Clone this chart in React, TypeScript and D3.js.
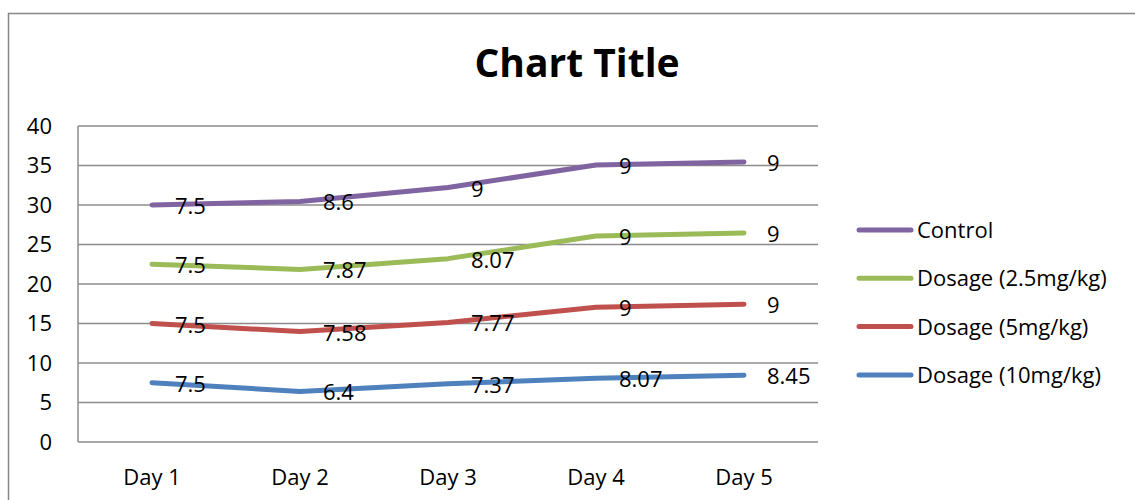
import * as d3 from 'd3'
import { useEffect, useRef } from 'react'

const days = ['Day 1', 'Day 2', 'Day 3', 'Day 4', 'Day 5']
const seriesNames = ['Dosage (10mg/kg)', 'Dosage (5mg/kg)', 'Dosage (2.5mg/kg)', 'Control']
const dose10 = [7.5, 6.4, 7.37, 8.07, 8.45]
const dose5 = [7.5, 7.58, 7.77, 9, 9]
const dose25 = [7.5, 7.87, 8.07, 9, 9]
const control = [7.5, 8.6, 9, 9, 9]
const yTicks = [0, 5, 10, 15, 20, 25, 30, 35, 40]
const colors = ['#4F81BD', '#C0504D', '#9BBB59', '#8064A2']

const FONT = '"Open Sans", sans-serif'
const TEXT_SIZE = 22

export default function App() {
  const ref = useRef<HTMLDivElement | null>(null)

  useEffect(() => {
    const width = 1135
    const height = 500
    const plotLeft = 78
    const plotRight = 818
    const plotTop = 126
    const plotBottom = 442

    // rows for the stack, one per day
    const rows = days.map((day, i) => ({
      day,
      [seriesNames[0]]: dose10[i],
      [seriesNames[1]]: dose5[i],
      [seriesNames[2]]: dose25[i],
      [seriesNames[3]]: control[i],
    }))

    const series = d3.stack<any>().keys(seriesNames)(rows)

    const x = d3.scaleBand().domain(days).range([plotLeft, plotRight])
    const cx = (d: string) => x(d)! + x.bandwidth() / 2
    const y = d3.scaleLinear().domain([0, 40]).range([plotBottom, plotTop])

    const color = d3.scaleOrdinal<string>().domain(seriesNames).range(colors)

    const svg = d3
      .create('svg')
      .attr('width', width)
      .attr('height', height)
      .attr('viewBox', [0, 0, width, height])
      .style('display', 'block')
      .style('font-family', FONT)

    svg.append('rect').attr('width', width).attr('height', height).attr('fill', '#fff')

    // chart border (runs off to the right and bottom)
    svg
      .append('rect')
      .attr('x', 8.5)
      .attr('y', 13.5)
      .attr('width', width + 20)
      .attr('height', height + 20)
      .attr('fill', 'none')
      .attr('stroke', '#868686')
      .attr('stroke-width', 1.5)

    // title
    svg
      .append('text')
      .attr('x', 577)
      .attr('y', 77)
      .attr('text-anchor', 'middle')
      .attr('font-size', 39)
      .attr('font-weight', 'bold')
      .attr('fill', '#000')
      .text('Chart Title')

    // gridlines
    svg
      .append('g')
      .selectAll('line')
      .data(yTicks)
      .join('line')
      .attr('x1', plotLeft)
      .attr('x2', plotRight)
      .attr('y1', (d) => y(d))
      .attr('y2', (d) => y(d))
      .attr('stroke', '#8c8c8c')
      .attr('stroke-width', 1.5)

    // y axis line
    svg
      .append('line')
      .attr('x1', plotLeft)
      .attr('x2', plotLeft)
      .attr('y1', plotTop)
      .attr('y2', plotBottom)
      .attr('stroke', '#8c8c8c')
      .attr('stroke-width', 1.5)

    // y tick labels
    svg
      .append('g')
      .selectAll('text')
      .data(yTicks)
      .join('text')
      .attr('x', 52)
      .attr('y', (d) => y(d) + 7.5)
      .attr('text-anchor', 'end')
      .attr('font-size', TEXT_SIZE)
      .text((d) => d)

    // x tick labels
    svg
      .append('g')
      .selectAll('text')
      .data(days)
      .join('text')
      .attr('x', (d) => cx(d))
      .attr('y', 485)
      .attr('text-anchor', 'middle')
      .attr('font-size', TEXT_SIZE)
      .text((d) => d)

    const line = d3
      .line<any>()
      .x((d) => cx(d.data.day))
      .y((d) => y(d[1]))

    // lines
    svg
      .append('g')
      .selectAll('path')
      .data(series)
      .join('path')
      .attr('d', (s) => line(s))
      .attr('fill', 'none')
      .attr('stroke', (s) => color(s.key))
      .attr('stroke-width', 5)
      .attr('stroke-linecap', 'round')
      .attr('stroke-linejoin', 'round')

    // data labels: the series' own value, to the right of the point
    svg
      .append('g')
      .selectAll('g')
      .data(series)
      .join('g')
      .selectAll('text')
      .data((s) => s)
      .join('text')
      .attr('x', (d: any) => cx(d.data.day) + 23)
      .attr('y', (d) => y(d[1]) + 9)
      .attr('font-size', TEXT_SIZE)
      .text((d) => d3.format('~g')(+(d[1] - d[0]).toFixed(2)))

    // legend
    const legend = svg
      .append('g')
      .selectAll('g')
      .data(series.slice().reverse())
      .join('g')
      .attr('transform', (_, i) => `translate(857, ${230 + i * 48.3})`)

    legend
      .append('line')
      .attr('x1', 2)
      .attr('x2', 54)
      .attr('stroke', (s) => color(s.key))
      .attr('stroke-width', 5)
      .attr('stroke-linecap', 'round')

    legend
      .append('text')
      .attr('x', 60)
      .attr('y', 8)
      .attr('font-size', TEXT_SIZE)
      .text((s) => s.key)

    if (ref.current) {
      ref.current.innerHTML = ''
      ref.current.appendChild(svg.node()!)
    }
  }, [])

  return <div ref={ref} style={{ position: 'absolute', left: 0, top: 0 }} />
}
